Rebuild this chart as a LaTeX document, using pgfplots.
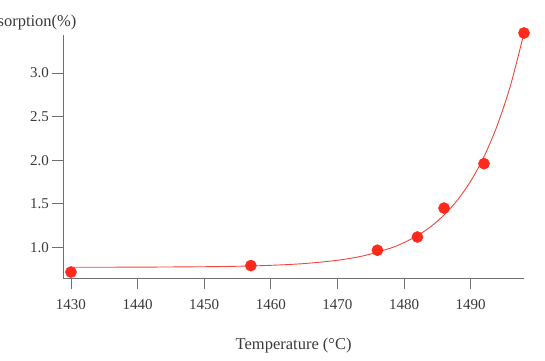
\documentclass[border=0pt]{standalone}
\usepackage{pgfplots}
\pgfplotsset{compat=1.18}
\usepackage{fontspec}
\setmainfont{Liberation Serif}

\definecolor{axisgray}{HTML}{707070}
\definecolor{textgray}{HTML}{3A3A3A}
\definecolor{markred}{HTML}{FF2A1C}
\definecolor{fitred}{HTML}{F0473C}

\begin{document}
\begin{tikzpicture}
\begin{axis}[
  scale only axis,
  width=460.7bp, height=243.3bp,
  xmin=1428.85, xmax=1498,
  ymin=0.644, ymax=3.437,
  axis lines=left,
  axis line style={axisgray, line width=0.9bp, -},
  xtick={1430,1440,...,1490},
  ytick={1.0,1.5,...,3.0},
  tick align=outside,
  major tick length=11bp,
  tick style={axisgray, line width=0.9bp},
  x tick label style={/pgf/number format/1000 sep={}, yshift=-7bp},
  y tick label style={/pgf/number format/.cd, fixed, fixed zerofill, precision=1},
  /pgf/number format/assume math mode=true,
  ticklabel style={font=\fontsize{15bp}{17bp}\selectfont, text=textgray},
  xlabel={Temperature (°C)},
  xlabel style={font=\fontsize{16.5bp}{19bp}\selectfont, text=textgray,
                at={(rel axis cs:0.5,0)}, anchor=center, yshift=-67.5bp},
  clip=false,
]
  % fitted growth curve
  \addplot[fitred, line width=0.9bp, smooth] coordinates {
    (1430,0.771) (1440,0.772) (1450,0.777) (1455,0.782) (1460,0.793)
    (1465,0.813) (1470,0.851) (1474,0.904) (1478,0.991) (1480,1.054)
    (1482,1.134) (1484,1.237) (1486,1.370) (1488,1.541) (1490,1.760)
    (1492,2.041) (1494,2.402) (1496,2.865) (1498,3.460)
  };
  % measured absorption
  \addplot[only marks, mark=*, mark size=5.6bp, markred,
           mark options={draw=markred, fill=markred}] coordinates {
    (1430,0.716) (1457,0.790) (1476,0.966) (1482,1.118)
    (1486,1.450) (1492,1.960) (1498,3.460)
  };
  \node[anchor=base east, font=\fontsize{16.5bp}{19bp}\selectfont, text=textgray]
    at ([xshift=16.7bp, yshift=8bp]rel axis cs:0,1) {Absorption(\%)};
  \coordinate (O) at (rel axis cs:0,0);
\end{axis}
\pgfresetboundingbox
\path[use as bounding box] ([xshift=-63.3bp, yshift=-82.7bp]O) rectangle ++(545bp,361bp);
\end{tikzpicture}
\end{document}
